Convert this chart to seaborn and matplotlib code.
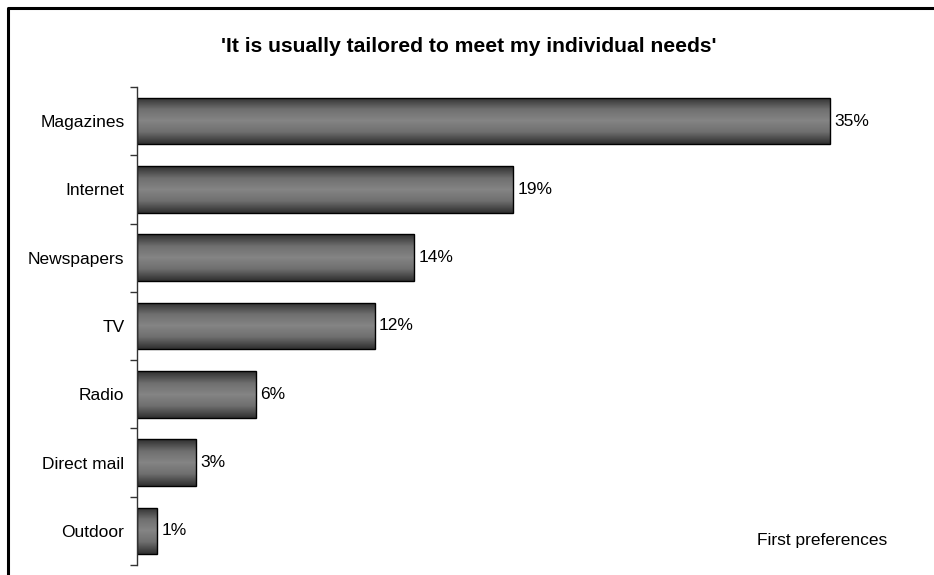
import numpy as np
import pandas as pd
import matplotlib
matplotlib.use("Agg")
import matplotlib.pyplot as plt
from matplotlib.lines import Line2D
from matplotlib.colors import LinearSegmentedColormap
import seaborn as sns

# data
media = ["Magazines", "Internet", "Newspapers", "TV", "Radio", "Direct mail", "Outdoor"]
share = [35, 19, 14, 12, 6, 3, 1]
title = "'It is usually tailored to meet my individual needs'"
note = "First preferences"

sns.set_theme(style="white")
plt.rcParams["font.family"] = ["Liberation Sans", "DejaVu Sans"]
plt.rcParams["text.color"] = "black"
plt.rcParams["ytick.color"] = "black"

df = pd.DataFrame({"media": media, "share": share})

fig = plt.figure(figsize=(9.34, 5.75), dpi=100)
W, H = 934, 575
ax = fig.add_axes([137 / W, 1 - 565 / H, 792 / W, (565 - 87) / H])

sns.barplot(data=df, x="share", y="media", orient="h", color="#666666",
            width=0.68, edgecolor="black", linewidth=1.0, ax=ax)

# vertical gradient inside each bar: dark edges, lighter middle
grad_cmap = LinearSegmentedColormap.from_list("bar", ["#303030", "#6e6e6e", "#858585", "#6e6e6e", "#303030"])
grad = np.linspace(0, 1, 64).reshape(-1, 1)
for p in ax.patches:
    x0, y0 = p.get_x(), p.get_y()
    w, h = p.get_width(), p.get_height()
    im = ax.imshow(grad, cmap=grad_cmap, aspect="auto", extent=[x0, x0 + w, y0 + h, y0],
                   zorder=p.get_zorder() + 0.1, interpolation="bilinear")
    im.set_clip_path(p)
    p.set_facecolor("none")
    p.set_zorder(p.get_zorder() + 0.2)
ax.set_xlim(0, 40)
ax.set_ylim(len(media) - 0.5, -0.5)

for i, v in enumerate(share):
    ax.text(v + 0.22, i, f"{v}%", va="center", ha="left", fontsize=12.5, color="black")

sns.despine(ax=ax, left=False, bottom=True, right=True, top=True)
ax.spines["left"].set_color("#333333")
ax.spines["left"].set_linewidth(1.0)
ax.set_xticks([])
ax.set_xlabel("")
ax.set_ylabel("")
ax.set_yticks(range(len(media)))
ax.set_yticklabels(media, fontsize=12.5, color="black")
ax.set_yticks(np.arange(-0.5, len(media), 1), minor=True)
ax.tick_params(axis="y", which="major", length=0, pad=9)
ax.tick_params(axis="y", which="minor", length=5, width=1, color="#333333", left=True)

fig.text(469 / W, 1 - 47 / H, title, ha="center", va="center", fontsize=15.2,
         fontweight="bold", color="black")
fig.text(822 / W, 1 - 541 / H, note, ha="center", va="center", fontsize=12.5, color="black")

# frame on the left and top
fig.add_artist(Line2D([7.5 / W, 7.5 / W, 1.0], [0.0, 1 - 7.5 / H, 1 - 7.5 / H],
                      transform=fig.transFigure, color="black", linewidth=2.2))

fig.savefig("out.png", dpi=100)
